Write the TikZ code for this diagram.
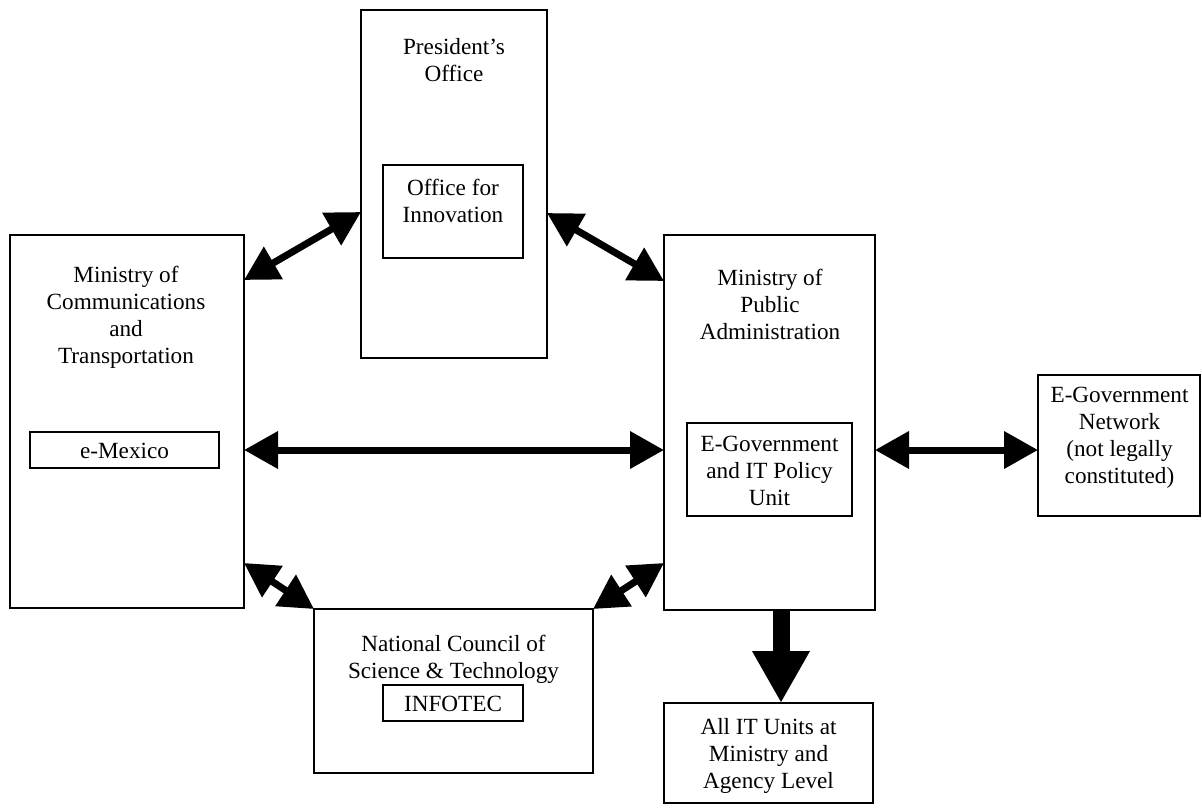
\documentclass[tikz,border=0pt]{standalone}
\usepackage{fontspec}
\setmainfont{Liberation Serif}
\usetikzlibrary{arrows.meta}
\tikzset{
  box/.style={draw, line width=1.3pt, inner sep=0pt, outer sep=0pt},
  lbl/.style={align=center, inner sep=0pt, font=\fontsize{23.2}{27}\selectfont},
  dbl/.style={line width=7pt, {Triangle[length=34pt,width=36pt]}-{Triangle[length=34pt,width=36pt]}},
  bigdown/.style={line width=17pt, -{Triangle[length=52pt,width=54pt]}}
}
\begin{document}
\begin{tikzpicture}[x=1pt,y=-1pt]
\useasboundingbox (0,0) rectangle (1202,809);
% boxes
\node[box, minimum width=186pt, minimum height=348pt] (pres) at (454,184) {};
\node[box, minimum width=140pt, minimum height=93pt] (innov) at (453,211.5) {};
\node[box, minimum width=234pt, minimum height=373pt] (mct) at (127,421.5) {};
\node[box, minimum width=189pt, minimum height=36pt] (emex) at (124.5,450) {};
\node[box, minimum width=211pt, minimum height=375pt] (mpa) at (769.5,422.5) {};
\node[box, minimum width=165pt, minimum height=93pt] (egov) at (769.5,469.5) {};
\node[box, minimum width=162pt, minimum height=141pt] (egn) at (1119,445.5) {};
\node[box, minimum width=279pt, minimum height=164pt] (nc) at (453.5,691) {};
\node[box, minimum width=140pt, minimum height=36pt] (infotec) at (453,703) {};
\node[box, minimum width=209pt, minimum height=100pt] (allit) at (768.5,753) {};
% texts
\node[lbl] (tpres) at (454,60) {President’s\\Office};
\node[lbl] (tinnov) at (453,201) {Office for\\Innovation};
\node[lbl] (tmct) at (126,317.5) {Ministry of\\Communications\\and\\Transportation};
\node[lbl] (temex) at (124.5,451) {e-Mexico};
\node[lbl] (tmpa) at (770,304) {Ministry of\\Public\\Administration};
\node[lbl] (tegov) at (769.5,471) {E-Government\\and IT Policy\\Unit};
\node[lbl] (tegn) at (1119.5,438) {E-Government\\Network\\(not legally\\constituted)};
\node[lbl] (tnc) at (453.5,659) {National Council of\\Science \& Technology};
\node[lbl] (tinfotec) at (453,704) {INFOTEC};
\node[lbl] (tallit) at (768.5,756) {All IT Units at\\Ministry and\\Agency Level};
% connectors
\draw[dbl] (mct.east |- 0,280) -- (pres.west |- 0,212);
\draw[dbl] (pres.east |- 0,213) -- (mpa.west |- 0,281);
\draw[dbl] (mct.east |- 0,450) -- (mpa.west |- 0,450);
\draw[dbl] (mpa.east |- 0,450) -- (egn.west |- 0,450);
\draw[dbl] (mct.east |- 0,563) -- (nc.north west);
\draw[dbl] (mpa.west |- 0,563) -- (nc.north east);
\draw[bigdown] (mpa.south -| 781,0) -- (allit.north -| 781,0);
\end{tikzpicture}
\end{document}
